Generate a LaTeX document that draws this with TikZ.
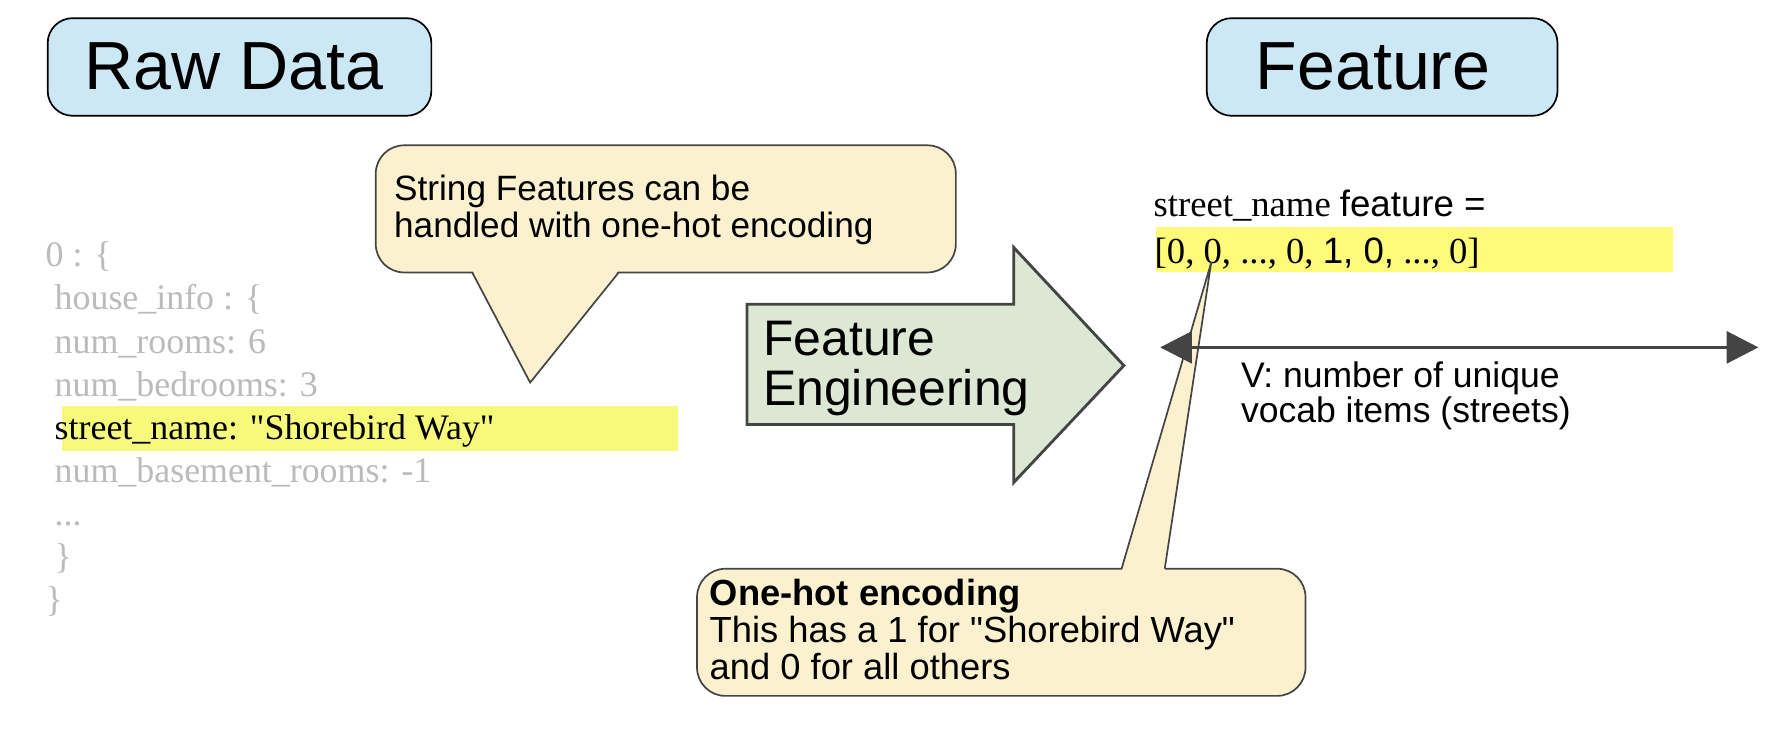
\documentclass[tikz,border=0pt]{standalone}
\usepackage{fontspec}
\setmainfont{Liberation Serif}
\setsansfont{Liberation Sans}
\newfontfamily\hv{Liberation Sans}
\newfontfamily\tm{Liberation Serif}
\usetikzlibrary{arrows.meta}
\definecolor{boxblue}{HTML}{CCE8F4}
\definecolor{cream}{HTML}{FCF1CF}
\definecolor{sage}{HTML}{DCE8D4}
\definecolor{hlA}{HTML}{F7F97B}
\definecolor{hlB}{HTML}{FFFA7A}
\definecolor{jsongray}{HTML}{BBBBBB}
\definecolor{edge}{HTML}{444444}
\tikzset{
  bluebox/.style={draw=black, line width=1.5pt, fill=boxblue, rounded corners=22pt, inner sep=0pt},
  titletxt/.style={font=\hv\fontsize{60}{60}\selectfont, inner sep=0pt, anchor=base west},
  calloutbox/.style={draw=edge, line width=1.5pt, fill=cream, rounded corners=25pt, inner sep=0pt},
  sanstxt/.style={font=\hv\fontsize{31}{32}\selectfont, inner sep=0pt, anchor=base west, align=left},
  jsontxt/.style={font=\tm\fontsize{31.6}{33}\selectfont, inner sep=0pt, anchor=base west, text=jsongray},
  hlbox/.style={inner sep=0pt, draw=none},
}
\begin{document}
\begin{tikzpicture}[x=1pt,y=-1pt]
\useasboundingbox (0,0) rectangle (1568,650);
\fill[white] (0,0) rectangle (1568,650);

% title boxes
\node[bluebox, minimum width=338pt, minimum height=86pt] (rawbox) at (211,59) {};
\node[titletxt] (rawtxt) at (74,78.7) {Raw Data};
\node[bluebox, minimum width=309pt, minimum height=86pt] (featbox) at (1217.5,59) {};
\node[titletxt] (feattxt) at (1106,78.7) {Feature};

% JSON text
\node[hlbox, fill=hlA, minimum width=542pt, minimum height=39pt] (hlleft) at (326,377.5) {};
\node[jsontxt] (j0) at (40,235) {0 : \{};
\node[jsontxt] (j1) at (48,273) {house\_info : \{};
\node[jsontxt] (j2) at (48,311) {num\_rooms: 6};
\node[jsontxt] (j3) at (48,349) {num\_bedrooms: 3};
\node[jsontxt, text=black] (j4) at (48,387) {street\_name: "Shorebird Way"};
\node[jsontxt] (j5) at (48,425) {num\_basement\_rooms: -1};
\node[jsontxt] (j6) at (48,463) {...};
\node[jsontxt] (j7) at (48,501) {\}};
\node[jsontxt] (j8) at (40,539) {\}};

% callout 1
\node[calloutbox, minimum width=511pt, minimum height=112pt] (c1) at (586.5,184) {};
\fill[cream] (416,238) -- (467,337) -- (545,238) -- cycle;
\draw[edge, line width=1.5pt, line join=miter] (416,240) -- (467,337) -- (545,240);
\node[sanstxt] (c1txt) at (347,209) {String Features can be\\handled with one-hot encoding};

% big arrow
\draw[draw=edge, fill=sage, line width=2.5pt, line join=miter]
  (658,268) -- (893,268) -- (893,218) -- (990,322) -- (893,425) -- (893,374) -- (658,374) -- cycle;
\node[font=\hv\fontsize{44}{43.5}\selectfont, inner sep=0pt, anchor=base west, align=left] (fe) at (672,357) {Feature\\Engineering};

% feature vector
\node[hlbox, fill=hlB, minimum width=456pt, minimum height=40pt] (hlright) at (1246,220) {};
\node[inner sep=0pt, anchor=base west, font=\fontsize{32.3}{33}\selectfont] (fname) at (1016,191)
  {{\tm street\_name} {\hv feature =}};
\node[inner sep=0pt, anchor=base west, font=\fontsize{32.3}{33}\selectfont] (fvec) at (1017,232)
  {{\tm [0, 0, ..., 0,} {\hv 1, 0,} {\tm ..., 0]}};

% callout 2
\node[calloutbox, minimum width=536pt, minimum height=112pt] (c2) at (882,557) {};
\fill[cream] (988,503) -- (1067,231) -- (1026,503) -- cycle;
\draw[edge, line width=1.5pt, line join=miter] (988,501) -- (1067,231) -- (1026,501);
\node[sanstxt, font=\hv\fontsize{32}{33}\selectfont] (c2txt) at (625,599) {\textbf{One-hot encoding}\\This has a 1 for "Shorebird Way"\\and 0 for all others};

% double arrow
\coordinate (vl) at (1022,306);
\coordinate (vr) at (1549,306);
\draw[edge, line width=3pt, {Triangle[length=28pt,width=28pt]}-{Triangle[length=28pt,width=28pt]}] (vl) -- (vr);
\node[sanstxt, font=\hv\fontsize{31.3}{31}\selectfont] (vtxt) at (1093,372.5) {V: number of unique\\vocab items (streets)};
\end{tikzpicture}
\end{document}
